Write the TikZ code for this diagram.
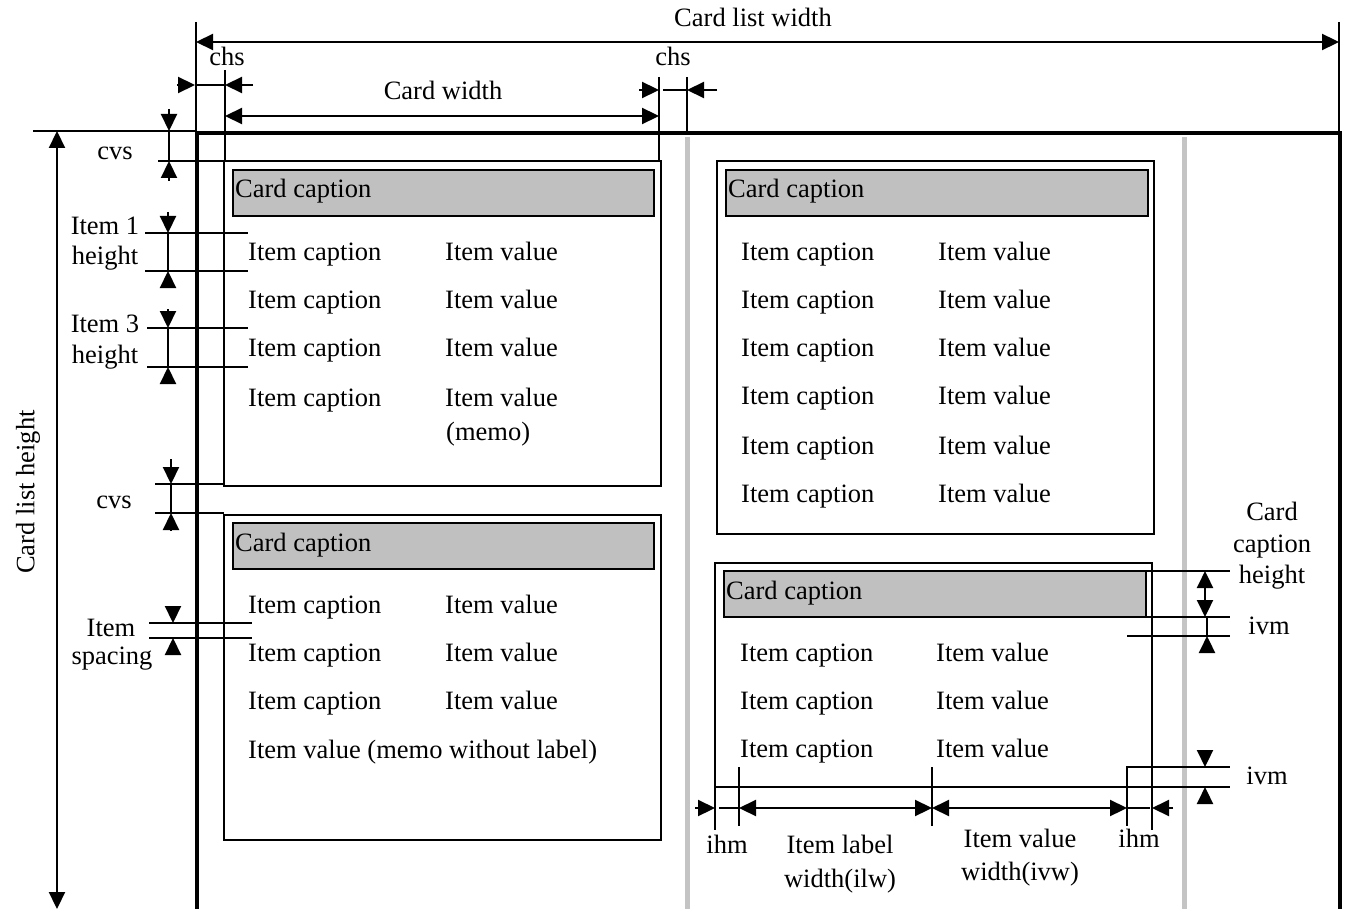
\documentclass[tikz,border=0pt]{standalone}
\usepackage{fontspec}
\setmainfont{Liberation Serif}
\usetikzlibrary{arrows.meta}
\definecolor{capgray}{RGB}{192,192,192}
\definecolor{sepgray}{RGB}{196,196,196}
\begin{document}
\begin{tikzpicture}[x=1pt,y=-1pt,
  font=\fontsize{26.5}{32}\selectfont,
  >={Triangle[length=17pt,width=16pt]},
  ext/.style={line width=1.5pt},
  dimln/.style={line width=2.2pt},
  frame/.style={line width=4pt},
  cardbox/.style={draw,line width=1.6pt},
  capbox/.style={draw,fill=capgray,line width=2pt},
  sep/.style={draw=sepgray,line width=5pt},
  txt/.style={inner sep=0pt,anchor=base west},
  ctxt/.style={inner sep=0pt,anchor=base}]
\useasboundingbox (0,0) rectangle (1348,909);

% separators
\draw[sep] (687,137) -- (687,909);
\draw[sep] (1184,137) -- (1184,909);

% card list frame
\draw[frame] (197,909) -- (197,133) -- (1340,133) -- (1340,909);

% card list width
\draw[ext] (196,22) -- (196,133);
\draw[ext] (1339,22) -- (1339,131);
\draw[dimln,<->] (196,42) -- (1339,42);
\node[ctxt] (clw) at (753,27) {Card list width};

% card list height
\draw[ext] (33,131) -- (197,131);
\draw[dimln,<->] (57,131) -- (57,909);
\node[rotate=90,inner sep=0pt] (clh) at (28,492) {Card list height};

% left chs
\draw[ext] (225,70) -- (225,160);
\draw[dimln,->] (177,85) -- (195,85);
\draw[ext] (195,85) -- (225,85);
\draw[dimln,->] (253,85) -- (225,85);
\node[ctxt] (chs1) at (227,66) {chs};

% card width
\draw[dimln,<->] (225,116) -- (659,116);
\node[ctxt] (cw) at (443,100) {Card width};

% right chs
\draw[ext] (659,77) -- (659,160);
\draw[ext] (687,77) -- (687,133);
\draw[dimln,->] (639,90) -- (659,90);
\draw[ext] (663,90) -- (687,90);
\draw[dimln,->] (717,90) -- (687,90);
\node[ctxt] (chs2) at (673,66) {chs};

% cvs top
\draw[ext] (158,161) -- (225,161);
\draw[dimln,->] (169,109) -- (169,131);
\draw[ext] (169,131) -- (169,161);
\draw[dimln,->] (169,181) -- (169,161);
\node[ctxt] (cvs1) at (115,160) {cvs};

% item 1 height
\draw[ext] (145,233) -- (248,233);
\draw[ext] (145,271) -- (248,271);
\draw[dimln,->] (168,212) -- (168,233);
\draw[ext] (168,233) -- (168,271);
\draw[dimln,->] (168,287) -- (168,271);
\node[ctxt] (i1a) at (105,235) {Item 1};
\node[ctxt] (i1b) at (105,264) {height};

% item 3 height
\draw[ext] (147,328) -- (248,328);
\draw[ext] (147,367) -- (248,367);
\draw[dimln,->] (168,309) -- (168,328);
\draw[ext] (168,328) -- (168,367);
\draw[dimln,->] (168,384) -- (168,367);
\node[ctxt] (i3a) at (105,332) {Item 3};
\node[ctxt] (i3b) at (105,363) {height};

% cvs middle
\draw[ext] (155,484) -- (224,484);
\draw[ext] (155,513) -- (224,513);
\draw[dimln,->] (171,459) -- (171,484);
\draw[ext] (171,484) -- (171,513);
\draw[dimln,->] (171,531) -- (171,513);
\node[ctxt] (cvs2) at (114,508) {cvs};

% item spacing
\draw[ext] (149,623) -- (252,623);
\draw[ext] (149,638) -- (252,638);
\draw[dimln,->] (173,606) -- (173,623);
\draw[dimln,->] (173,655) -- (173,638);
\node[ctxt] (isa) at (111,636) {Item};
\node[ctxt] (isb) at (112,664) {spacing};

% card 1
\draw[cardbox] (224,161) rectangle (661,486);
\draw[capbox] (233,170) rectangle (654,216);
\node[txt] (c1cap) at (235,198) {Card caption};
\foreach \yy/\nm in {260/a,308/b,356/c,406/d} {
  \node[txt] (c1l\nm) at (248,\yy) {Item caption};
  \node[txt] (c1v\nm) at (445,\yy) {Item value};
}
\node[txt] (c1memo) at (446,440) {(memo)};

% card 2
\draw[cardbox] (224,515) rectangle (661,840);
\draw[capbox] (233,523) rectangle (654,569);
\node[txt] (c2cap) at (235,551) {Card caption};
\foreach \yy/\nm in {613/a,661/b,709/c} {
  \node[txt] (c2l\nm) at (248,\yy) {Item caption};
  \node[txt] (c2v\nm) at (445,\yy) {Item value};
}
\node[txt] (c2memo) at (248,758) {Item value (memo without label)};

% card 3
\draw[cardbox] (717,161) rectangle (1154,534);
\draw[capbox] (726,170) rectangle (1148,216);
\node[txt] (c3cap) at (728,198) {Card caption};
\foreach \yy/\nm in {260/a,308/b,356/c,404/d,454/e,502/f} {
  \node[txt] (c3l\nm) at (741,\yy) {Item caption};
  \node[txt] (c3v\nm) at (938,\yy) {Item value};
}

% card 4
\draw[cardbox] (715,563) rectangle (1152,787);
\draw[capbox] (724,571) rectangle (1146,617);
\node[txt] (c4cap) at (726,599) {Card caption};
\foreach \yy/\nm in {661/a,709/b,757/c} {
  \node[txt] (c4l\nm) at (740,\yy) {Item caption};
  \node[txt] (c4v\nm) at (936,\yy) {Item value};
}

% card caption height and ivm
\draw[ext] (1137,571) -- (1230,571);
\draw[ext] (1127,617) -- (1230,617);
\draw[ext] (1127,636) -- (1230,636);
\draw[dimln,<->] (1205,571) -- (1205,617);
\draw[ext] (1207,617) -- (1207,636);
\draw[dimln,->] (1207,652) -- (1207,636);
\node[ctxt] (cch1) at (1272,520) {Card};
\node[ctxt] (cch2) at (1272,552) {caption};
\node[ctxt] (cch3) at (1272,583) {height};
\node[ctxt] (ivm1) at (1269,634) {ivm};

% bottom ivm
\draw[ext] (1126,767) -- (1230,767);
\draw[ext] (1152,787) -- (1230,787);
\draw[dimln,->] (1205,750) -- (1205,767);
\draw[dimln,->] (1205,804) -- (1205,787);
\node[ctxt] (ivm2) at (1267,784) {ivm};

% bottom widths
\draw[ext] (715,787) -- (715,830);
\draw[ext] (1152,787) -- (1152,830);
\draw[ext] (739,767) -- (739,826);
\draw[ext] (932,767) -- (932,826);
\draw[ext] (1127,767) -- (1127,826);
\draw[dimln,->] (695,808) -- (715,808);
\draw[ext] (719,808) -- (739,808);
\draw[dimln,<->] (739,808) -- (932,808);
\draw[dimln,<->] (932,808) -- (1127,808);
\draw[ext] (1127,808) -- (1150,808);
\draw[dimln,->] (1173,808) -- (1152,808);
\node[ctxt] (ihm1) at (727,853) {ihm};
\node[ctxt] (ilw1) at (840,853) {Item label};
\node[ctxt] (ilw2) at (840,887) {width(ilw)};
\node[ctxt] (ivw1) at (1020,847) {Item value};
\node[ctxt] (ivw2) at (1020,880) {width(ivw)};
\node[ctxt] (ihm2) at (1139,847) {ihm};
\end{tikzpicture}
\end{document}
